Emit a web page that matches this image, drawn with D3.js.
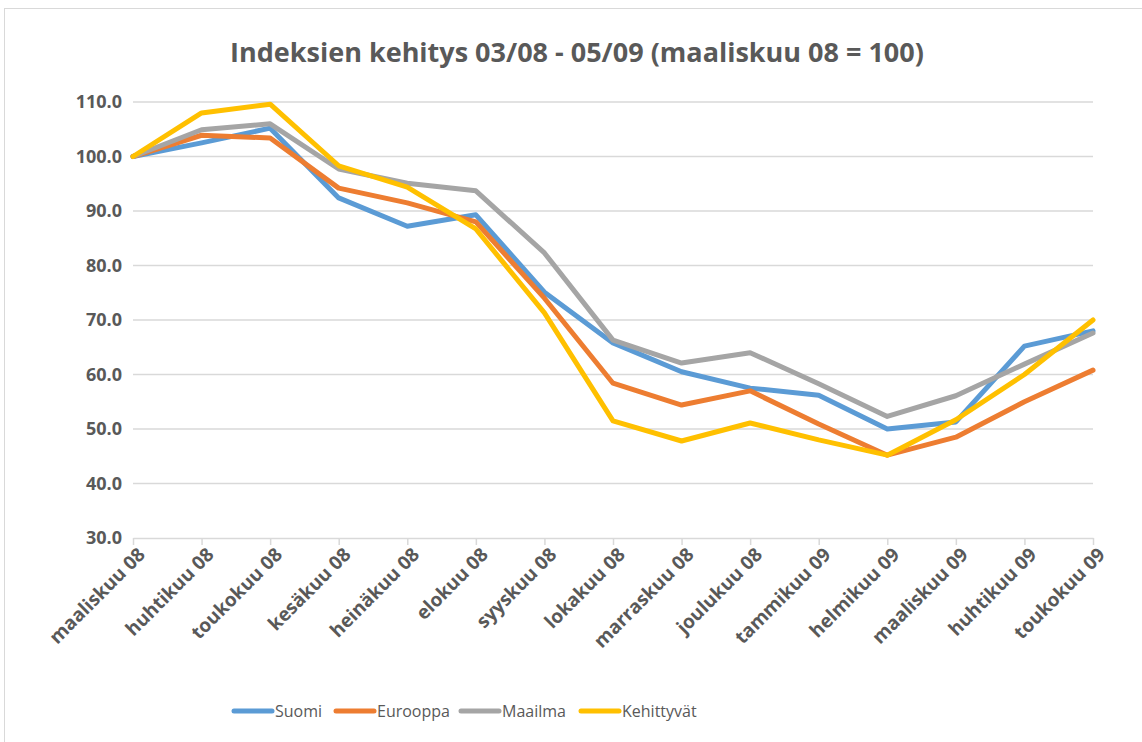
<!DOCTYPE html>
<html>
<head>
<meta charset="utf-8">
<script src="https://cdn.jsdelivr.net/npm/d3@7"></script>
<style>
  body { margin: 0; background: #fff; }
  text { font-family: "Open Sans", sans-serif; }
</style>
</head>
<body>
<div id="chart"></div>
<script>
// data
const months = ["maaliskuu 08", "huhtikuu 08", "toukokuu 08", "kesäkuu 08", "heinäkuu 08", "elokuu 08",
    "syyskuu 08", "lokakuu 08", "marraskuu 08", "joulukuu 08", "tammikuu 09", "helmikuu 09",
    "maaliskuu 09", "huhtikuu 09", "toukokuu 09"];
const seriesNames = ["Suomi", "Eurooppa", "Maailma", "Kehittyvät"];
const suomi = [100, 102.5, 105.2, 92.4, 87.2, 89.3, 75.1, 65.8, 60.5, 57.5, 56.2, 50.0, 51.3, 65.2, 68.0];
const eurooppa = [100, 103.9, 103.4, 94.2, 91.5, 88.0, 74.0, 58.4, 54.4, 57.0, 50.9, 45.2, 48.5, 55.0, 60.8];
const maailma = [100, 104.9, 106.0, 97.7, 95.1, 93.7, 82.3, 66.3, 62.1, 64.0, 58.3, 52.3, 56.1, 61.9, 67.6];
const kehittyvat = [100, 108.0, 109.6, 98.3, 94.4, 86.7, 71.3, 51.5, 47.8, 51.1, 48.0, 45.2, 51.7, 60.0, 70.0];
const yTicks = [30, 40, 50, 60, 70, 80, 90, 100, 110];

const allSeries = [suomi, eurooppa, maailma, kehittyvat];
const colors = ["#5b9bd5", "#ed7d31", "#a5a5a5", "#ffc000"];

const dimensions = {
    width: 1142,
    height: 742,
    margin: { top: 102, right: 49, bottom: 204, left: 133 }
};
dimensions.boundedWidth = dimensions.width - dimensions.margin.left - dimensions.margin.right;
dimensions.boundedHeight = dimensions.height - dimensions.margin.top - dimensions.margin.bottom;

const svg = d3.select("#chart").append("svg")
    .attr("width", dimensions.width)
    .attr("height", dimensions.height);

// outer chart border
svg.append("rect")
    .attr("x", 4.5).attr("y", 8.5)
    .attr("width", 1150).attr("height", 760)
    .attr("fill", "#fff")
    .attr("stroke", "#d9d9d9");

const x = d3.scalePoint()
    .domain(months)
    .range([0, dimensions.boundedWidth]);

const y = d3.scaleLinear()
    .domain([30, 110])
    .range([dimensions.boundedHeight, 0]);

const bounds = svg.append("g")
    .attr("transform", `translate(${dimensions.margin.left}, ${dimensions.margin.top})`);

// gridlines
bounds.append("g")
    .selectAll("line")
    .data(yTicks.filter(t => t > 30))
    .join("line")
    .attr("x1", 0).attr("x2", dimensions.boundedWidth)
    .attr("y1", d => y(d)).attr("y2", d => y(d))
    .attr("stroke", "#d9d9d9")
    .attr("stroke-width", 1.5);

// y axis
const yAxis = bounds.append("g")
    .call(d3.axisLeft(y).tickValues(yTicks).tickFormat(d3.format(".1f")).tickSize(0).tickPadding(11));
yAxis.select(".domain").remove();
yAxis.selectAll("text")
    .attr("fill", "#595959")
    .style("font-size", "18px")
    .style("font-weight", "bold");

// x axis
const xAxis = bounds.append("g")
    .attr("transform", `translate(0, ${dimensions.boundedHeight})`)
    .call(d3.axisBottom(x).tickSize(7).tickSizeOuter(0));
xAxis.select(".domain").attr("stroke", "#d9d9d9").attr("stroke-width", 1.5);
xAxis.selectAll(".tick line").attr("stroke", "#d9d9d9").attr("stroke-width", 1.5);
xAxis.selectAll("text")
    .attr("fill", "#595959")
    .style("font-size", "19px")
    .style("font-weight", "bold")
    .attr("text-anchor", "end")
    .attr("dy", "0.35em")
    .attr("transform", "translate(1, 6) rotate(-45)");

// lines
const line = d3.line()
    .x((d, i) => x(months[i]))
    .y(d => y(d));

bounds.selectAll("path.series")
    .data(allSeries)
    .join("path")
    .attr("class", "series")
    .attr("d", line)
    .attr("fill", "none")
    .attr("stroke", (d, i) => colors[i])
    .attr("stroke-width", 5)
    .attr("stroke-linejoin", "round")
    .attr("stroke-linecap", "round");

// title
svg.append("text")
    .attr("x", 577)
    .attr("y", 62)
    .attr("text-anchor", "middle")
    .attr("fill", "#595959")
    .style("font-size", "27px")
    .style("font-weight", "bold")
    .text("Indeksien kehitys 03/08 - 05/09 (maaliskuu 08 = 100)");

// legend
const legendX = [234, 336, 461, 581];
const legend = svg.append("g")
    .selectAll("g")
    .data(seriesNames)
    .join("g")
    .attr("transform", (d, i) => `translate(${legendX[i]}, 711)`);
legend.append("line")
    .attr("x1", 0).attr("x2", 38)
    .attr("stroke", (d, i) => colors[i])
    .attr("stroke-width", 5)
    .attr("stroke-linecap", "round");
legend.append("text")
    .attr("x", 41)
    .attr("dy", "0.35em")
    .attr("fill", "#595959")
    .style("font-size", "16px")
    .text(d => d);
</script>
</body>
</html>
